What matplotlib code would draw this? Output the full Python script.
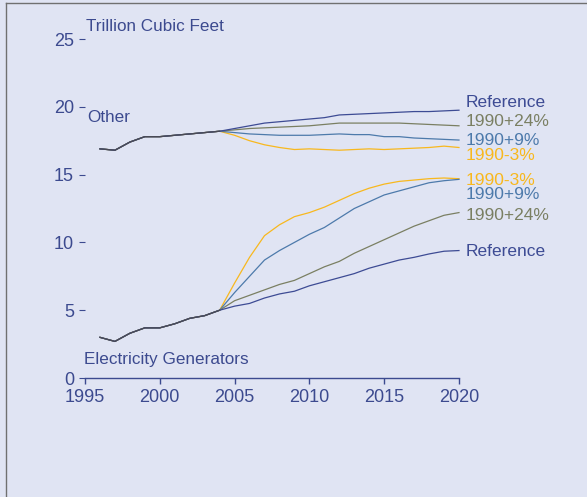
import numpy as np
import matplotlib.pyplot as plt

plt.rcParams['font.family'] = ['Liberation Sans', 'DejaVu Sans']

years = list(range(1996, 2021))

# "Other" consumption (trillion cubic feet)
other_hist = [16.9, 16.8, 17.4, 17.8, 17.8, 17.9, 18.0, 18.1, 18.2]
other_ref = [18.4, 18.6, 18.8, 18.9, 19.0, 19.1, 19.2, 19.4, 19.45, 19.5, 19.55, 19.6, 19.65, 19.65, 19.7, 19.75]
other_p24 = [18.3, 18.4, 18.45, 18.5, 18.55, 18.6, 18.7, 18.8, 18.8, 18.8, 18.8, 18.8, 18.75, 18.7, 18.65, 18.6]
other_p9 = [18.1, 18.0, 17.95, 17.9, 17.9, 17.9, 17.95, 18.0, 17.95, 17.95, 17.8, 17.8, 17.7, 17.65, 17.6, 17.55]
other_m3 = [17.9, 17.5, 17.2, 17.0, 16.85, 16.9, 16.85, 16.8, 16.85, 16.9, 16.85, 16.9, 16.95, 17.0, 17.1, 17.0]

# Electricity generators
elec_hist = [3.0, 2.7, 3.3, 3.7, 3.7, 4.0, 4.4, 4.6, 5.0]
elec_ref = [5.3, 5.5, 5.9, 6.2, 6.4, 6.8, 7.1, 7.4, 7.7, 8.1, 8.4, 8.7, 8.9, 9.15, 9.35, 9.4]
elec_p24 = [5.7, 6.1, 6.5, 6.9, 7.2, 7.7, 8.2, 8.6, 9.2, 9.7, 10.2, 10.7, 11.2, 11.6, 12.0, 12.2]
elec_p9 = [6.3, 7.5, 8.7, 9.4, 10.0, 10.6, 11.1, 11.8, 12.5, 13.0, 13.5, 13.8, 14.1, 14.4, 14.55, 14.65]
elec_m3 = [7.0, 8.9, 10.5, 11.3, 11.9, 12.2, 12.6, 13.1, 13.6, 14.0, 14.3, 14.5, 14.6, 14.7, 14.75, 14.7]

names = ['Reference', '1990+24%', '1990+9%', '1990-3%']
colors = ['#3D4B94', '#7A7F62', '#4D7AAB', '#F8B81E']
other_label_y = [20.3, 18.95, 17.5, 16.4]
elec_label_y = [9.35, 11.95, 13.55, 14.6]

bg = '#E0E4F3'
txt = '#3C4A8F'

fig = plt.figure(figsize=(5.87, 4.97), dpi=100, facecolor=bg)
ax = fig.add_axes([0.1448, 0.2394, 0.6371, 0.6821])
ax.set_facecolor(bg)

# draw from the back so Reference sits on top
for name, col, o, e in reversed(list(zip(names, colors,
                                        [other_ref, other_p24, other_p9, other_m3],
                                        [elec_ref, elec_p24, elec_p9, elec_m3]))):
    ax.plot(years, other_hist + o, color=col, lw=0.9, clip_on=False)
    ax.plot(years, elec_hist + e, color=col, lw=0.9, clip_on=False)

# historical part in dark grey
ax.plot(years[:9], other_hist, color='#4A4A55', lw=0.9)
ax.plot(years[:9], elec_hist, color='#4A4A55', lw=0.9)

for name, col, yo, ye in zip(names, colors, other_label_y, elec_label_y):
    ax.text(2020.45, yo, name, color=col, fontsize=12.5, va='center', ha='left')
    ax.text(2020.45, ye, name, color=col, fontsize=12.5, va='center', ha='left')

ax.text(1995.1, 25.6, 'Trillion Cubic Feet', color=txt, fontsize=12.3, va='baseline')
ax.text(1995.15, 18.85, 'Other', color=txt, fontsize=12.3, va='baseline')
ax.text(1994.95, 1.0, 'Electricity Generators', color=txt, fontsize=12.3, va='baseline')

ax.set_xlim(1995, 2020)
ax.set_ylim(0, 25)
ax.set_xticks([1995, 2000, 2005, 2010, 2015, 2020])
ax.set_yticks([0, 5, 10, 15, 20, 25])
for s in ['top', 'right', 'left']:
    ax.spines[s].set_visible(False)
ax.spines['bottom'].set_color(txt)
ax.spines['bottom'].set_linewidth(1.0)
ax.tick_params(axis='x', colors=txt, labelsize=13, length=4, width=1, pad=4)
ax.tick_params(axis='y', colors=txt, labelsize=13, length=4, width=0.8, pad=4)

# frame lines at the image's top and left edges
fig.add_artist(plt.Line2D([6 / 587, 1], [1 - 3 / 497, 1 - 3 / 497], color='#707070', lw=1))
fig.add_artist(plt.Line2D([6 / 587, 6 / 587], [0, 1 - 3 / 497], color='#707070', lw=1))

fig.savefig('out.png', dpi=100, facecolor=bg)
